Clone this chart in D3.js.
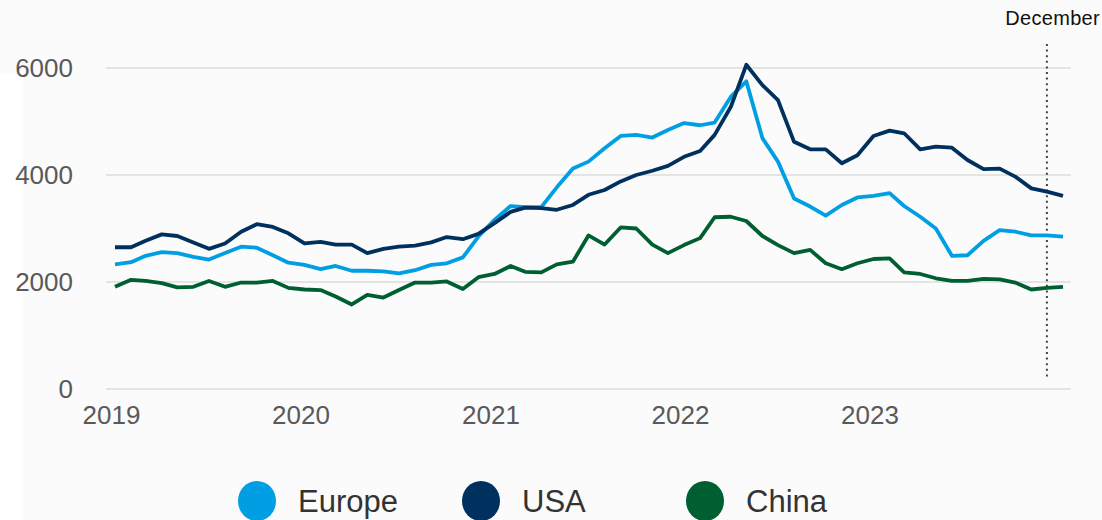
<!DOCTYPE html>
<meta charset="utf-8">
<script src="https://d3js.org/d3.v7.min.js"></script>
<style>
  body { margin: 0; background: #fbfbfb; }
  svg { display: block; font-family: "Liberation Sans", Arial, sans-serif; }
</style>
<div id="chart"></div>
<script>
// monthly values, Jan 2019 .. Jan 2024
var europe = [2330, 2370, 2490, 2560, 2540, 2470, 2420, 2540, 2660, 2640, 2500, 2360,
              2320, 2240, 2300, 2210, 2210, 2200, 2160, 2220, 2320, 2350, 2460, 2850,
              3160, 3420, 3400, 3400, 3770, 4120, 4250, 4500, 4730, 4750, 4700, 4840,
              4970, 4930, 4980, 5460, 5750, 4690, 4250, 3560, 3410, 3240, 3440, 3580,
              3610, 3660, 3420, 3220, 3000, 2490, 2500, 2770, 2970, 2940, 2870, 2870,
              2850];
var usa = [2650, 2650, 2770, 2890, 2860, 2740, 2620, 2720, 2940, 3080, 3030, 2910,
           2720, 2750, 2700, 2700, 2540, 2620, 2660, 2680, 2740, 2840, 2800, 2900,
           3100, 3310, 3390, 3380, 3350, 3440, 3630, 3720, 3880, 4000, 4080, 4170,
           4340, 4450, 4750, 5270, 6060, 5680, 5400, 4620, 4480, 4480, 4220, 4370,
           4730, 4830, 4780, 4480, 4530, 4510, 4280, 4110, 4120, 3970, 3750, 3690,
           3610];
var china = [1910, 2040, 2020, 1980, 1900, 1910, 2020, 1910, 1990, 1990, 2020, 1890,
             1860, 1850, 1730, 1580, 1760, 1710, 1850, 1990, 1990, 2010, 1870, 2090,
             2150, 2300, 2190, 2180, 2330, 2380, 2870, 2700, 3020, 3000, 2700, 2540,
             2690, 2820, 3210, 3220, 3140, 2860, 2690, 2540, 2600, 2350, 2240, 2350,
             2430, 2440, 2180, 2150, 2070, 2020, 2020, 2060, 2050, 1990, 1860, 1890,
             1910];

var seriesNames = ["Europe", "USA", "China"];
var seriesColors = ["#009fe3", "#00305e", "#005f30"];
var yTicks = [0, 2000, 4000, 6000];
var yearTicks = [2019, 2020, 2021, 2022, 2023];
var markerLabel = "December";
var markerDate = new Date(2023, 11, 1);

var months = d3.timeMonth.range(new Date(2019, 0, 1), new Date(2024, 1, 1));

var width = 1102, height = 520;

var svg = d3.select("#chart")
  .append("svg")
    .attr("width", width)
    .attr("height", height);

// white strip on the far left
svg.append("rect")
  .attr("x", 0).attr("y", 73)
  .attr("width", 23).attr("height", height - 73)
  .attr("fill", "#ffffff");

var x = d3.scaleTime()
  .domain([new Date(2019, 0, 1), new Date(2024, 0, 1)])
  .range([115, 1063]);

var y = d3.scaleLinear()
  .domain([0, 6000])
  .range([389, 68]);

// gridlines
svg.append("g")
  .selectAll("line")
  .data(yTicks)
  .enter()
  .append("line")
    .attr("x1", 106)
    .attr("x2", 1071)
    .attr("y1", function (d) { return y(d); })
    .attr("y2", function (d) { return y(d); })
    .attr("stroke", "#e4e4e4")
    .attr("stroke-width", 2);

// y axis labels
var yAxis = svg.append("g")
  .attr("transform", "translate(73,0)")
  .call(d3.axisLeft(y).tickValues(yTicks).tickSize(0).tickPadding(0).tickFormat(d3.format("d")));
yAxis.select(".domain").remove();
yAxis.selectAll("text")
  .attr("fill", "#595959")
  .style("font-size", "26px")
  .style("font-family", "Liberation Sans, Arial, sans-serif");

// x axis labels
var xAxis = svg.append("g")
  .attr("transform", "translate(-4,402)")
  .call(d3.axisBottom(x)
    .tickValues(yearTicks.map(function (yr) { return new Date(yr, 0, 1); }))
    .tickSize(0).tickPadding(4)
    .tickFormat(d3.timeFormat("%Y")));
xAxis.select(".domain").remove();
xAxis.selectAll("text")
  .attr("fill", "#595959")
  .style("font-size", "26px")
  .style("font-family", "Liberation Sans, Arial, sans-serif");

// December marker
svg.append("line")
  .attr("x1", x(markerDate)).attr("x2", x(markerDate))
  .attr("y1", 44).attr("y2", 378)
  .attr("stroke", "#444")
  .attr("stroke-width", 2)
  .attr("stroke-dasharray", "2,3.6");
svg.append("text")
  .attr("x", 1100)
  .attr("y", 25)
  .attr("text-anchor", "end")
  .attr("fill", "#111")
  .style("font-size", "20px")
  .style("letter-spacing", "0.3px")
  .text(markerLabel);

// lines
var line = d3.line()
  .x(function (d, i) { return x(months[i]); })
  .y(function (d) { return y(d); });

[europe, usa, china].forEach(function (vals, k) {
  svg.append("path")
    .datum(vals)
    .attr("fill", "none")
    .attr("stroke", seriesColors[k])
    .attr("stroke-width", 3.8)
    .attr("stroke-linejoin", "round")
    .attr("d", line);
});

// legend
var legendX = [257, 481, 705];
var legend = svg.append("g")
  .selectAll("g")
  .data(seriesNames)
  .enter()
  .append("g")
    .attr("transform", function (d, i) { return "translate(" + legendX[i] + ",501)"; });
legend.append("ellipse")
  .attr("rx", 19)
  .attr("ry", 20)
  .attr("fill", function (d, i) { return seriesColors[i]; });
legend.append("text")
  .attr("x", 41)
  .attr("y", 11)
  .attr("fill", "#333")
  .style("font-size", "31px")
  .text(function (d) { return d; });
</script>
